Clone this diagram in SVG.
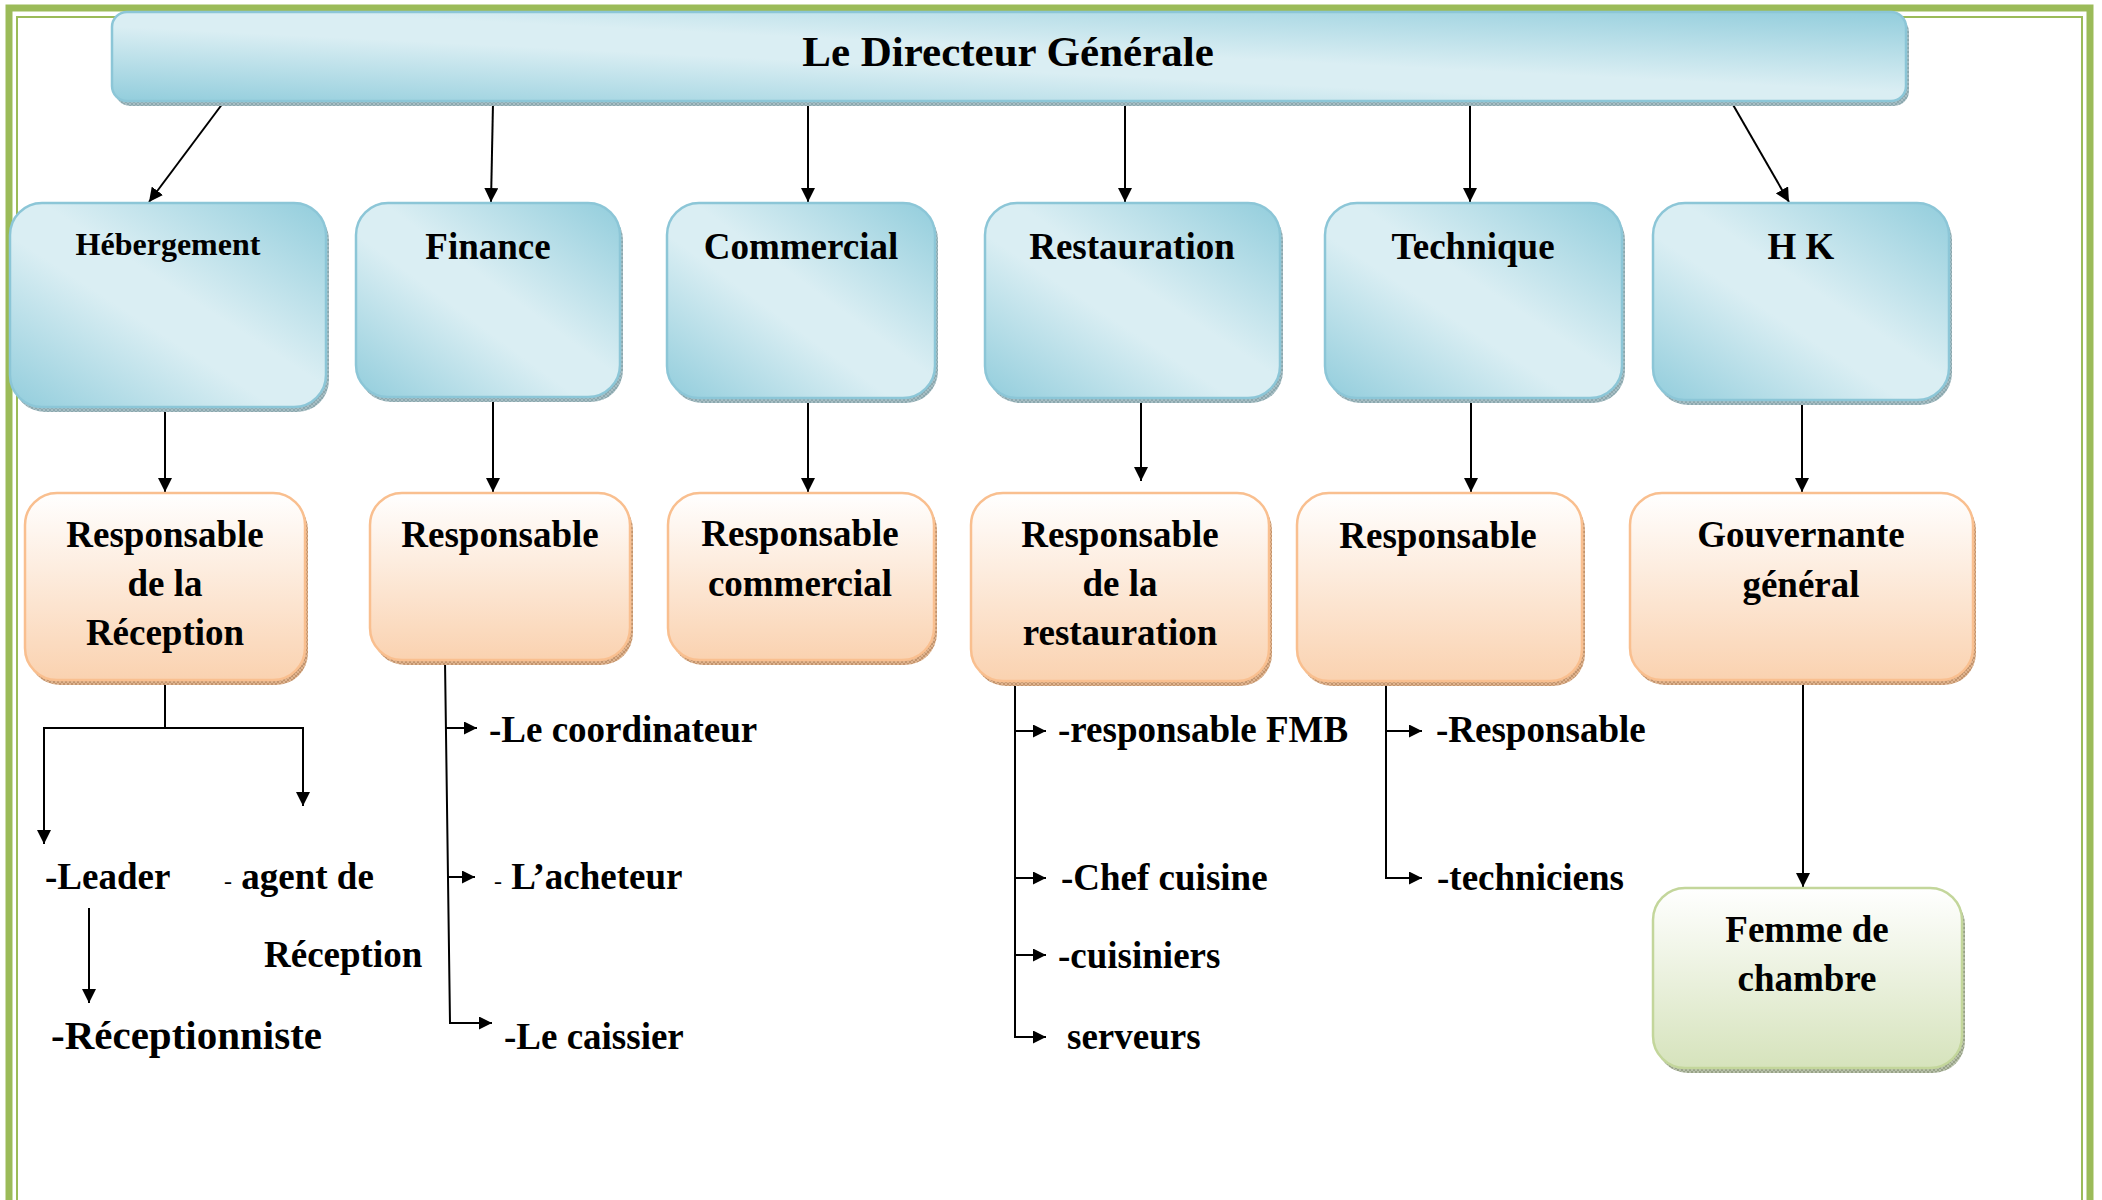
<svg xmlns="http://www.w3.org/2000/svg" width="2102" height="1200" viewBox="0 0 2102 1200">
  <defs>
    <!-- blue department boxes: dark corners, light diagonal band -->
    <linearGradient id="gBlue" x1="1" y1="0" x2="0" y2="1">
      <stop offset="0" stop-color="#92cddc"/>
      <stop offset="0.45" stop-color="#daeef3"/>
      <stop offset="0.58" stop-color="#daeef3"/>
      <stop offset="1" stop-color="#92cddc"/>
    </linearGradient>
    <!-- orange manager boxes -->
    <linearGradient id="gOrange" x1="0" y1="0" x2="0" y2="1">
      <stop offset="0" stop-color="#ffffff"/>
      <stop offset="1" stop-color="#fad2b0"/>
    </linearGradient>
    <!-- green staff box -->
    <linearGradient id="gGreen" x1="0" y1="0" x2="0" y2="1">
      <stop offset="0" stop-color="#ffffff"/>
      <stop offset="1" stop-color="#d6e3bc"/>
    </linearGradient>
    <!-- hatched drop shadows -->
    <pattern id="hBlue" width="4" height="4" patternUnits="userSpaceOnUse">
      <rect width="4" height="4" fill="#a7bec4"/>
      <path d="M0,0 L4,4 M4,0 L0,4" stroke="#7b98a0" stroke-width="0.6"/>
    </pattern>
    <pattern id="hOrange" width="4" height="4" patternUnits="userSpaceOnUse">
      <rect width="4" height="4" fill="#dfb48f"/>
      <path d="M0,0 L4,4 M4,0 L0,4" stroke="#b07e55" stroke-width="0.6"/>
    </pattern>
    <pattern id="hGreen" width="4" height="4" patternUnits="userSpaceOnUse">
      <rect width="4" height="4" fill="#b8c1aa"/>
      <path d="M0,0 L4,4 M4,0 L0,4" stroke="#838d70" stroke-width="0.6"/>
    </pattern>
    <marker id="arr" viewBox="0 0 14 14" markerWidth="14" markerHeight="14" refX="14" refY="7" orient="auto" markerUnits="userSpaceOnUse">
      <path d="M0,0 L14,7 L0,14 z" fill="#000"/>
    </marker>
    <marker id="arrS" viewBox="0 0 13 13" markerWidth="13" markerHeight="13" refX="13" refY="6.5" orient="auto" markerUnits="userSpaceOnUse">
      <path d="M0,0 L13,6.5 L0,13 z" fill="#000"/>
    </marker>
  </defs>
  <style>
    text { font-family: "Liberation Serif", "Times New Roman", serif; font-weight: bold; fill: #000; }
    .t37 { font-size: 37px; }
    .mid { text-anchor: middle; }
    .blue { fill: url(#gBlue); stroke: #8cc6d7; stroke-width: 2.5; }
    .orange { fill: url(#gOrange); stroke: #f9bf8f; stroke-width: 2.5; }
    .green { fill: url(#gGreen); stroke: #c3d69b; stroke-width: 2.5; }
    .sb { fill: url(#hBlue); }
    .so { fill: url(#hOrange); }
    .sg { fill: url(#hGreen); }
    .link { fill: none; stroke: #000; stroke-width: 2; }
    .hy { font-size: 24px; font-weight: normal; }
  </style>

  <rect width="2102" height="1200" fill="#ffffff"/>

  <!-- page border: thick outer line, thin inner line -->
  <g id="border" fill="none" stroke="#9bbb59">
    <rect x="9" y="8" width="2081" height="1260" stroke-width="7"/>
    <rect x="17" y="17" width="2065" height="1240" stroke-width="2"/>
  </g>

  <!-- connectors -->
  <g id="connectors" class="link">
    <path d="M223,103 L149,202" marker-end="url(#arr)"/>
    <path d="M493,103 L491,202" marker-end="url(#arr)"/>
    <path d="M808,103 L808,202" marker-end="url(#arr)"/>
    <path d="M1125,103 L1125,202" marker-end="url(#arr)"/>
    <path d="M1470,103 L1470,202" marker-end="url(#arr)"/>
    <path d="M1732,103 L1789,202" marker-end="url(#arr)"/>

    <path d="M165,409 L165,492" marker-end="url(#arr)"/>
    <path d="M493,399 L493,492" marker-end="url(#arr)"/>
    <path d="M808,400 L808,492" marker-end="url(#arr)"/>
    <path d="M1141,400 L1141,481" marker-end="url(#arr)"/>
    <path d="M1471,400 L1471,492" marker-end="url(#arr)"/>
    <path d="M1802,402 L1802,492" marker-end="url(#arr)"/>

    <!-- reception staff -->
    <path d="M165,682 V728 H44 V844" marker-end="url(#arr)"/>
    <path d="M165,728 H303 V806" marker-end="url(#arr)"/>
    <path d="M89,908 L89,1003" marker-end="url(#arr)"/>

    <!-- finance staff -->
    <path d="M445,661 L450,1023 H492" marker-end="url(#arrS)"/>
    <path d="M446,728 H477" marker-end="url(#arrS)"/>
    <path d="M448,877 H475" marker-end="url(#arrS)"/>

    <!-- restaurant staff -->
    <path d="M1015,682 V1037 H1046" marker-end="url(#arrS)"/>
    <path d="M1015,731 H1046" marker-end="url(#arrS)"/>
    <path d="M1015,878 H1046" marker-end="url(#arrS)"/>
    <path d="M1015,955 H1046" marker-end="url(#arrS)"/>

    <!-- technical staff -->
    <path d="M1386,682 V878 H1422" marker-end="url(#arrS)"/>
    <path d="M1386,731 H1422" marker-end="url(#arrS)"/>

    <!-- housekeeping -->
    <path d="M1803,682 V887" marker-end="url(#arr)"/>
  </g>

  <!-- top level -->
  <g id="directeur">
    <rect class="sb" x="115" y="17" width="1794" height="89" rx="15"/>
    <rect class="blue" x="112" y="12" width="1794" height="89" rx="15"/>
    <text x="1008" y="66" class="mid" font-size="43">Le Directeur Générale</text>
  </g>

  <!-- departments -->
  <g id="hebergement">
    <rect class="sb" x="13" y="208" width="316" height="204" rx="32"/>
    <rect class="blue" x="10" y="203" width="316" height="204" rx="32"/>
    <text x="168" y="255" class="mid" font-size="32">Hébergement</text>
  </g>
  <g id="finance">
    <rect class="sb" x="359" y="208" width="264" height="194" rx="32"/>
    <rect class="blue" x="356" y="203" width="264" height="194" rx="32"/>
    <text x="488" y="259" class="mid t37">Finance</text>
  </g>
  <g id="commercial">
    <rect class="sb" x="670" y="208" width="268" height="195" rx="32"/>
    <rect class="blue" x="667" y="203" width="268" height="195" rx="32"/>
    <text x="801" y="259" class="mid t37">Commercial</text>
  </g>
  <g id="restauration">
    <rect class="sb" x="988" y="208" width="295" height="195" rx="32"/>
    <rect class="blue" x="985" y="203" width="295" height="195" rx="32"/>
    <text x="1132" y="259" class="mid t37">Restauration</text>
  </g>
  <g id="technique">
    <rect class="sb" x="1328" y="208" width="297" height="195" rx="32"/>
    <rect class="blue" x="1325" y="203" width="297" height="195" rx="32"/>
    <text x="1473" y="259" class="mid t37">Technique</text>
  </g>
  <g id="hk">
    <rect class="sb" x="1656" y="208" width="296" height="197" rx="32"/>
    <rect class="blue" x="1653" y="203" width="296" height="197" rx="32"/>
    <text x="1801" y="259" class="mid t37">H K</text>
  </g>

  <!-- managers -->
  <g id="resp-reception">
    <rect class="so" x="28" y="498" width="280" height="187" rx="32"/>
    <rect class="orange" x="25" y="493" width="280" height="187" rx="32"/>
    <text class="mid t37" x="165" y="547">Responsable</text>
    <text class="mid t37" x="165" y="596">de la</text>
    <text class="mid t37" x="165" y="645">Réception</text>
  </g>
  <g id="resp-finance">
    <rect class="so" x="373" y="498" width="260" height="167" rx="32"/>
    <rect class="orange" x="370" y="493" width="260" height="167" rx="32"/>
    <text class="mid t37" x="500" y="547">Responsable</text>
  </g>
  <g id="resp-commercial">
    <rect class="so" x="671" y="498" width="266" height="167" rx="32"/>
    <rect class="orange" x="668" y="493" width="266" height="167" rx="32"/>
    <text class="mid t37" x="800" y="546">Responsable</text>
    <text class="mid t37" x="800" y="596">commercial</text>
  </g>
  <g id="resp-restauration">
    <rect class="so" x="974" y="498" width="298" height="188" rx="32"/>
    <rect class="orange" x="971" y="493" width="298" height="188" rx="32"/>
    <text class="mid t37" x="1120" y="547">Responsable</text>
    <text class="mid t37" x="1120" y="596">de la</text>
    <text class="mid t37" x="1120" y="645">restauration</text>
  </g>
  <g id="resp-technique">
    <rect class="so" x="1300" y="498" width="285" height="188" rx="32"/>
    <rect class="orange" x="1297" y="493" width="285" height="188" rx="32"/>
    <text class="mid t37" x="1438" y="548">Responsable</text>
  </g>
  <g id="gouvernante">
    <rect class="so" x="1633" y="498" width="343" height="187" rx="32"/>
    <rect class="orange" x="1630" y="493" width="343" height="187" rx="32"/>
    <text class="mid t37" x="1801" y="547">Gouvernante</text>
    <text class="mid t37" x="1801" y="597">général</text>
  </g>

  <!-- housekeeping staff -->
  <g id="femme-de-chambre">
    <rect class="sg" x="1656" y="893" width="309" height="180" rx="32"/>
    <rect class="green" x="1653" y="888" width="309" height="180" rx="32"/>
    <text class="mid t37" x="1807" y="942">Femme de</text>
    <text class="mid t37" x="1807" y="991">chambre</text>
  </g>

  <!-- staff lists -->
  <g id="staff-reception">
    <text class="t37" x="45" y="889">-Leader</text>
    <text class="t37" x="224" y="889"><tspan class="hy">-</tspan> agent de</text>
    <text class="t37" x="264" y="967">Réception</text>
    <text x="51" y="1049" font-size="41">-Réceptionniste</text>
  </g>
  <g id="staff-finance">
    <text class="t37" x="489" y="742">-Le coordinateur</text>
    <text class="t37" x="494" y="889"><tspan class="hy">-</tspan> L’acheteur</text>
    <text class="t37" x="504" y="1049">-Le caissier</text>
  </g>
  <g id="staff-restauration">
    <text class="t37" x="1058" y="742">-responsable FMB</text>
    <text class="t37" x="1061" y="890">-Chef cuisine</text>
    <text class="t37" x="1058" y="968">-cuisiniers</text>
    <text class="t37" x="1067" y="1049">serveurs</text>
  </g>
  <g id="staff-technique">
    <text class="t37" x="1436" y="742">-Responsable</text>
    <text class="t37" x="1437" y="890">-techniciens</text>
  </g>
</svg>
